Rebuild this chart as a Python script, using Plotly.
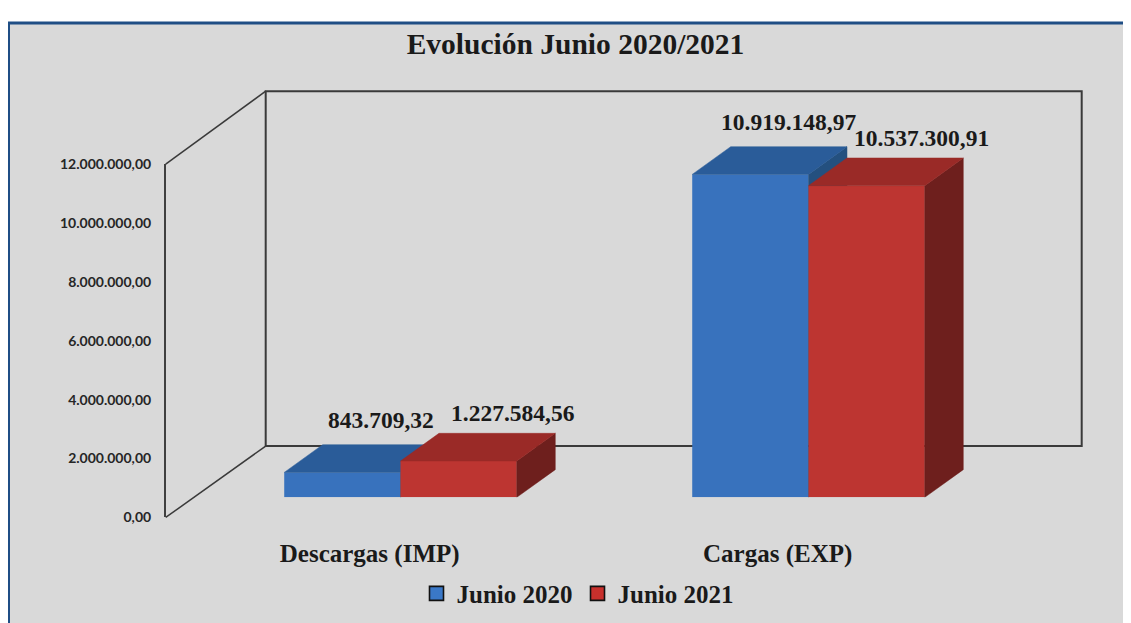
import plotly.graph_objects as go

# ---------------- data ----------------
CATEGORIES = ["Descargas (IMP)", "Cargas (EXP)"]
SERIES_NAMES = ["Junio 2020", "Junio 2021"]
JUNIO_2020 = [843709.32, 10919148.97]
JUNIO_2021 = [1227584.56, 10537300.91]
Y_TICKS = [0, 2000000, 4000000, 6000000, 8000000, 10000000, 12000000]
Y_TICK_LABELS = ["0,00", "2.000.000,00", "4.000.000,00", "6.000.000,00",
                 "8.000.000,00", "10.000.000,00", "12.000.000,00"]
TITLE = "Evolución Junio 2020/2021"


def fmt_es(v):
    s = f"{v:,.2f}"
    return s.replace(",", "X").replace(".", ",").replace("X", ".")


# ---------------- layout geometry (pixels of the 1131x623 window) ----------------
PAGE_OFFSET = 8          # the page body margin shifts the figure by 8 px
W = 1131 - PAGE_OFFSET
H = 623 - PAGE_OFFSET


def px(x):
    return (x - PAGE_OFFSET) / W


def py(y):
    return 1 - (y - PAGE_OFFSET) / H


Y_MAX = 12000000
PX_PER_UNIT_X = 408.0          # pixels between the two categories
PX_PER_UNIT_Y = 365.0 / Y_MAX  # pixels per value unit
BAR_W = 0.285                  # bar width in category units
DEPTH_DX = 38.5 / PX_PER_UNIT_X
DEPTH_DY = 28.5 / PX_PER_UNIT_Y

# colours: front, top, side
BLUE = dict(front="#3872BD", top="#2A5C99", side="#24507F", legend="#3A78C8")
RED = dict(front="#BD3531", top="#9A2A27", side="#6E1F1D", legend="#C8302C")

SERIF = "Liberation Serif, Times New Roman, serif"
NARROW = "Liberation Sans Narrow, Arial Narrow, Lato, sans-serif"
TEXT = "#1A1A1A"

fig = go.Figure()


def add_series(name, values, offset, colors, xa, ya, label_shift):
    xs = list(range(len(values)))
    # front faces
    fig.add_trace(go.Bar(
        x=xs, y=values, width=[BAR_W] * len(values), offset=offset,
        marker=dict(color=colors["front"], line=dict(width=0)),
        name=name, showlegend=False, xaxis=xa, yaxis=ya, hoverinfo="skip",
    ))
    # top faces and side faces (oblique projection of the bar depth)
    tx, ty, sx, sy = [], [], [], []
    for i, v in zip(xs, values):
        x0 = i + offset
        x1 = x0 + BAR_W
        tx += [x0, x1, x1 + DEPTH_DX, x0 + DEPTH_DX, x0, None]
        ty += [v, v, v + DEPTH_DY, v + DEPTH_DY, v, None]
        sx += [x1, x1, x1 + DEPTH_DX, x1 + DEPTH_DX, x1, None]
        sy += [0, v, v + DEPTH_DY, DEPTH_DY, 0, None]
    for fx, fy, col in ((sx, sy, colors["side"]), (tx, ty, colors["top"])):
        fig.add_trace(go.Scatter(
            x=fx, y=fy, mode="lines", fill="toself", fillcolor=col,
            line=dict(color=col, width=0.5), showlegend=False,
            xaxis=xa, yaxis=ya, hoverinfo="skip", cliponaxis=False,
        ))
    # value labels
    for i, v in zip(xs, values):
        fig.add_annotation(
            x=i + offset + BAR_W / 2 + DEPTH_DX, y=v + DEPTH_DY,
            xref="x", yref="y", text=fmt_es(v), showarrow=False,
            xanchor="center", yanchor="middle",
            xshift=label_shift[0], yshift=label_shift[1],
            font=dict(family=SERIF, size=23.5, color=TEXT, weight="bold"),
        )


add_series(SERIES_NAMES[0], JUNIO_2020, -BAR_W, BLUE, "x", "y", (0, 25))
add_series(SERIES_NAMES[1], JUNIO_2021, 0.0, RED, "x3", "y3", (16, 20))

# front plane: value axis + category labels (invisible carrier trace)
fig.add_trace(go.Scatter(
    x=CATEGORIES, y=[0] * len(CATEGORIES), mode="markers",
    marker=dict(opacity=0), showlegend=False, hoverinfo="skip",
    xaxis="x2", yaxis="y2",
))

# legend entries
for name, col in zip(SERIES_NAMES, (BLUE["legend"], RED["legend"])):
    fig.add_trace(go.Scatter(
        x=[None], y=[None], mode="markers", name=name,
        marker=dict(symbol="square", size=14, color=col,
                    line=dict(color="#111111", width=1.6)),
        xaxis="x2", yaxis="y2",
    ))

FRONT_LEFT = 165.7
FRONT_BOTTOM, FRONT_TOP = 522.7, 159.3
BACK_LEFT, BACK_RIGHT = 265.7, 1081.7
BACK_BOTTOM, BACK_TOP = 449.3, 84.3
BAR_ZERO = 502.0
BAR_CENTER0 = 400.5

hidden = dict(visible=False, showgrid=False, zeroline=False)
fig.update_layout(
    width=W, height=H,
    margin=dict(l=0, r=0, t=0, b=0),
    paper_bgcolor="white",
    plot_bgcolor="rgba(0,0,0,0)",
    barmode="overlay",
    title=dict(text=TITLE, x=px(575.5), xanchor="center", y=py(44),
               yanchor="middle",
               font=dict(family=SERIF, size=29.5, color=TEXT, weight="bold")),
    xaxis=dict(domain=[px(BAR_CENTER0 - 0.5 * PX_PER_UNIT_X),
                       px(BAR_CENTER0 + 1.5 * PX_PER_UNIT_X)],
               range=[-0.5, 1.5], anchor="y", **hidden),
    yaxis=dict(domain=[py(BAR_ZERO), py(BAR_ZERO - Y_MAX * PX_PER_UNIT_Y)],
               range=[0, Y_MAX], anchor="x", **hidden),
    xaxis3=dict(overlaying="x", range=[-0.5, 1.5], anchor="y3", **hidden),
    yaxis3=dict(overlaying="y", range=[0, Y_MAX], anchor="x3", **hidden),
    xaxis2=dict(domain=[px(FRONT_LEFT), px(FRONT_LEFT + 2 * PX_PER_UNIT_X)],
                range=[-0.5, 1.5], anchor="y2", showgrid=False,
                zeroline=False, showline=False, ticks="",
                ticklabelstandoff=19,
                tickfont=dict(family=SERIF, size=25, color=TEXT,
                              weight="bold")),
    yaxis2=dict(domain=[py(FRONT_BOTTOM), py(FRONT_TOP)], range=[0, Y_MAX],
                anchor="x2", showgrid=False, zeroline=False, showline=True,
                linecolor="#404040", linewidth=1.5, ticks="",
                tickvals=Y_TICKS, ticktext=Y_TICK_LABELS,
                ticklabelstandoff=10,
                tickfont=dict(family=NARROW, size=14, color="#262626",
                              weight="bold")),
    legend=dict(orientation="h", x=px(578), xanchor="center", y=py(601),
                yanchor="middle", bgcolor="rgba(0,0,0,0)",
                font=dict(family=SERIF, size=25, color=TEXT, weight="bold"),
                itemwidth=30, tracegroupgap=0),
    showlegend=True,
)

line_col = "#3A3A3A"
shapes = [
    # chart frame
    dict(type="rect", xref="paper", yref="paper", layer="below",
         x0=px(8.5), y0=py(14.2), x1=px(1200), y1=py(700),
         fillcolor="#D9D9D9", line=dict(color="#1F4E85", width=3)),
    # back wall
    dict(type="rect", xref="paper", yref="paper", layer="below",
         x0=px(BACK_LEFT), y0=py(BACK_BOTTOM), x1=px(BACK_RIGHT),
         y1=py(BACK_TOP), line=dict(color=line_col, width=2)),
    # side wall edges
    dict(type="line", xref="paper", yref="paper", layer="below",
         x0=px(FRONT_LEFT), y0=py(FRONT_TOP), x1=px(BACK_LEFT),
         y1=py(BACK_TOP), line=dict(color=line_col, width=1.5)),
    dict(type="line", xref="paper", yref="paper", layer="below",
         x0=px(FRONT_LEFT), y0=py(FRONT_BOTTOM), x1=px(BACK_LEFT),
         y1=py(BACK_BOTTOM), line=dict(color=line_col, width=1.5)),
]
fig.update_layout(shapes=shapes)

fig.write_html("out.html")
